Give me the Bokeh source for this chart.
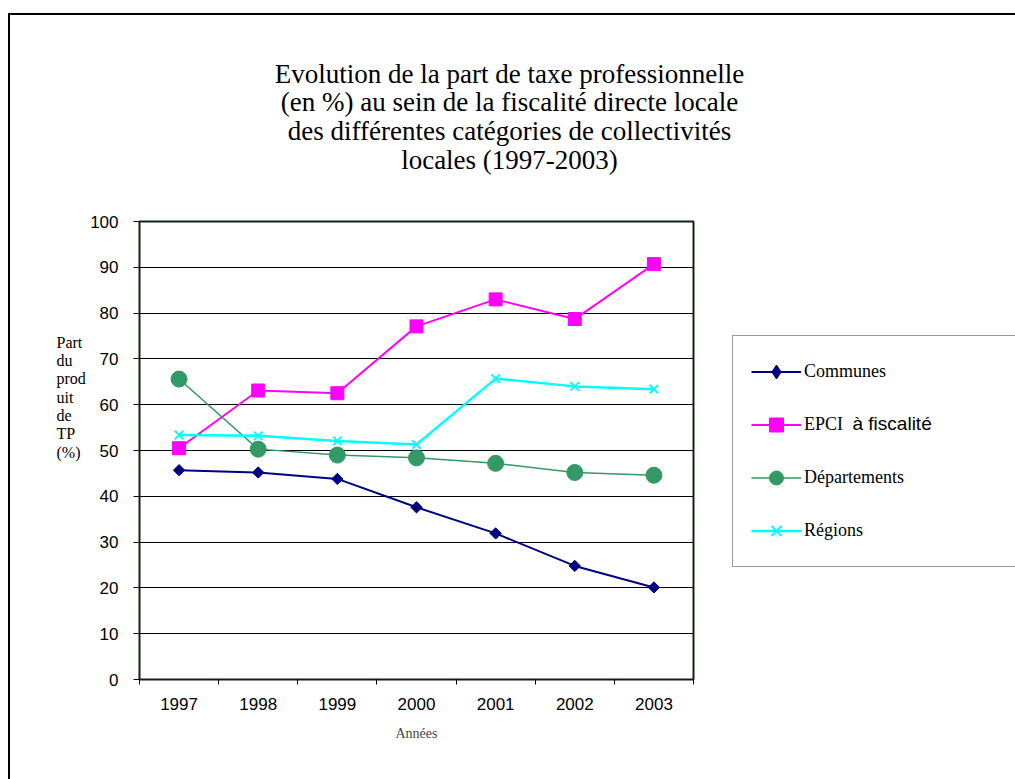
import math
from bokeh.plotting import figure
from bokeh.models import Range1d, FixedTicker, Legend, LegendItem, Label
from bokeh.embed import file_html
from bokeh.resources import INLINE

# ---- data ----
years = ["1997", "1998", "1999", "2000", "2001", "2002", "2003"]
communes = [45.7, 45.2, 43.8, 37.6, 31.9, 24.8, 20.1]
epci = [50.5, 63.1, 62.5, 77.1, 83.0, 78.7, 90.7]
departements = [65.6, 50.3, 49.0, 48.4, 47.2, 45.2, 44.6]
regions = [53.4, 53.2, 52.1, 51.3, 65.7, 64.0, 63.4]
y_ticks = [0, 10, 20, 30, 40, 50, 60, 70, 80, 90, 100]
title_text = ("Evolution de la part de taxe professionnelle\n"
              "(en %) au sein de la fiscalité directe locale\n"
              "des différentes catégories de collectivités\n"
              "locales (1997-2003)")
ylabel_text = "Part\ndu\nprod\nuit\nde\nTP\n(%)"

xpos = [i + 0.5 for i in range(len(years))]

SERIF = "Liberation Serif"
SANS = "Liberation Sans"

p = figure(width=1005, height=764, output_backend="svg", toolbar_location=None,
           x_range=Range1d(0, len(years)), y_range=Range1d(0, 100),
           frame_width=554, frame_height=458,
           min_border_left=129, min_border_top=206,
           min_border_right=322, min_border_bottom=100,
           styles={"margin-top": "13px", "margin-left": "8px",
                   "border-top": "2px solid #000000",
                   "border-left": "2px solid #000000"})
p.background_fill_color = "white"
p.border_fill_color = "white"
p.outline_line_color = "#142014"
p.outline_line_width = 2
p.xgrid.grid_line_color = None
p.ygrid.grid_line_color = "#000000"
p.ygrid.grid_line_width = 1

# axes
p.yaxis.ticker = FixedTicker(ticks=y_ticks, minor_ticks=[])
p.yaxis.axis_line_color = None
p.yaxis.major_tick_out = 6
p.yaxis.major_tick_in = 0
p.yaxis.major_tick_line_color = "#000000"
p.yaxis.minor_tick_line_color = None
p.yaxis.major_label_standoff = 15
p.yaxis.major_label_text_font = SANS
p.yaxis.major_label_text_font_size = "17px"
p.yaxis.major_label_text_color = "#000000"

p.xaxis.ticker = FixedTicker(ticks=xpos, minor_ticks=list(range(len(years) + 1)))
p.xaxis.major_label_overrides = {x: y for x, y in zip(xpos, years)}
p.xaxis.axis_line_color = None
p.xaxis.major_tick_out = 0
p.xaxis.major_tick_in = 0
p.xaxis.major_tick_line_color = None
p.xaxis.minor_tick_out = 5
p.xaxis.minor_tick_in = 0
p.xaxis.minor_tick_line_color = "#000000"
p.xaxis.major_label_standoff = 13
p.xaxis.major_label_text_font = SANS
p.xaxis.major_label_text_font_size = "17px"
p.xaxis.major_label_text_color = "#000000"
p.xaxis.axis_label = "Années"
p.xaxis.axis_label_text_font = SERIF
p.xaxis.axis_label_text_font_size = "14px"
p.xaxis.axis_label_text_font_style = "normal"
p.xaxis.axis_label_standoff = 13

# series
l1 = p.line(xpos, communes, line_color="#000080", line_width=2)
m1 = p.scatter(xpos, communes, marker="square", size=8, angle=math.pi / 4,
               fill_color="#000080", line_color="#000080")
m1_leg = p.scatter(xpos, communes, marker="diamond", size=12,
                   fill_color="#000080", line_color="#000080", visible=False)
l2 = p.line(xpos, epci, line_color="#FF00FF", line_width=2)
m2 = p.scatter(xpos, epci, marker="square", size=13,
               fill_color="#FF00FF", line_color="#FF00FF")
l3 = p.line(xpos, departements, line_color="#339966", line_width=1.5)
m3 = p.scatter(xpos, departements, marker="circle", size=16,
               fill_color="#339966", line_color="#339966")
l4 = p.line(xpos, regions, line_color="#00FFFF", line_width=2.5)
m4 = p.scatter(xpos, regions, marker="x", size=12, line_width=2,
               line_color="#00FFFF")

legend = Legend(items=[LegendItem(label="Communes", renderers=[l1, m1_leg]),
                       LegendItem(label="EPCI", renderers=[l2, m2]),
                       LegendItem(label="Départements", renderers=[l3, m3]),
                       LegendItem(label="Régions", renderers=[l4, m4])],
                location=(39, 112), orientation="vertical",
                glyph_width=50, glyph_height=35, spacing=18,
                label_standoff=3, label_width=220, label_height=35,
                padding=18, margin=0,
                border_line_color="#333333", border_line_width=1,
                background_fill_alpha=0,
                label_text_font=SERIF, label_text_font_size="18px",
                label_text_color="#000000")
p.add_layout(legend, "right")

# title (in the top panel)
p.add_layout(Label(x=370, y=163, x_units="screen", y_units="screen",
                   text=title_text, text_font=SERIF, text_font_size="27px",
                   text_line_height=0.96,
                   text_align="center", text_baseline="top",
                   text_color="#000000"), "above")

# y axis label (stacked words, in the left panel)
p.add_layout(Label(x=-2, y=346, x_units="screen", y_units="screen",
                   text=ylabel_text, text_font=SERIF, text_font_size="16px",
                   text_line_height=1.08,
                   text_align="left", text_baseline="top",
                   text_color="#000000"), "left")

# second part of the EPCI legend entry (sans-serif, as in the original)
p.add_layout(Label(x=713, y=341, x_units="screen", y_units="screen",
                   text="à fiscalité", text_font=SANS, text_font_size="19px",
                   text_align="left", text_baseline="alphabetic",
                   text_color="#000000"), "below")

open("out.html", "w").write(file_html(p, INLINE))
